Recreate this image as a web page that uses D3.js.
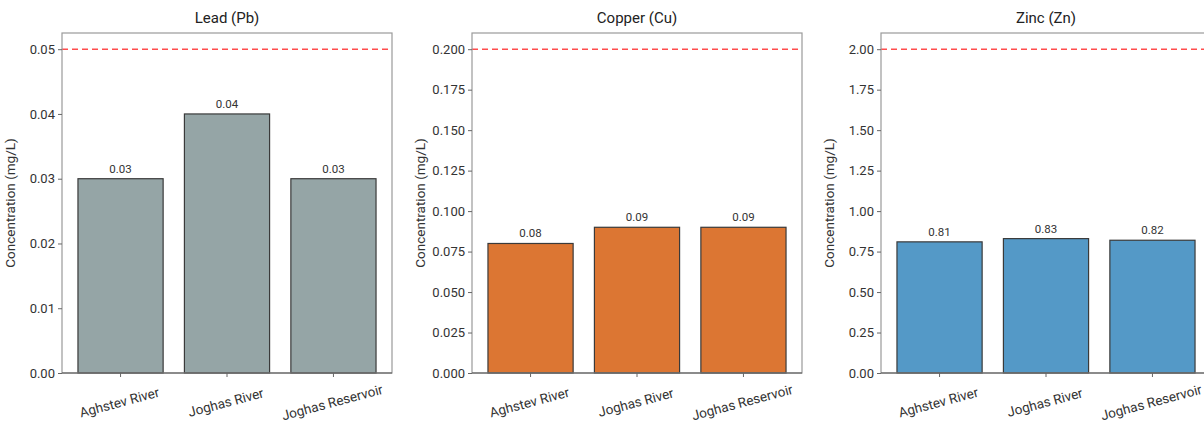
<!DOCTYPE html>
<html><head><meta charset="utf-8">
<script src="https://cdn.jsdelivr.net/npm/d3@7"></script>
<style>html,body{margin:0;padding:0;background:#fff;overflow:hidden}svg{display:block}text{font-family:Roboto,"Noto Sans",sans-serif}</style>
</head><body>
<script>
const sites = ["Aghstev River", "Joghas River", "Joghas Reservoir"];
const metals = ["Lead (Pb)", "Copper (Cu)", "Zinc (Zn)"];
const leadValues = [0.03, 0.04, 0.03];
const copperValues = [0.08, 0.09, 0.09];
const zincValues = [0.81, 0.83, 0.82];
const limits = [0.05, 0.2, 2.0];
const valueLabels = [["0.03","0.04","0.03"],["0.08","0.09","0.09"],["0.81","0.83","0.82"]];
const yTicks = [[0,0.01,0.02,0.03,0.04,0.05],[0,0.025,0.05,0.075,0.1,0.125,0.15,0.175,0.2],[0,0.25,0.5,0.75,1,1.25,1.5,1.75,2]];
const tickFormats = [".2f", ".3f", ".2f"];
const colors = ["#95a5a6", "#dc7633", "#5499c7"];
const yLabel = "Concentration (mg/L)";
const series = [leadValues, copperValues, zincValues];

(function(){
const W = 1204, H = 429;
const svg = d3.select("body").append("svg").attr("width", W).attr("height", H);
const lefts = [62, 472, 881];
const pw = 330, plotTop = 33, plotBottom = 373;

series.forEach((vals, i) => {
  const g = svg.append("g").attr("transform", `translate(${lefts[i]},0)`);
  const x = d3.scaleLinear().domain([-0.55, 2.55]).range([0, pw]);
  const y = d3.scaleLinear().domain([0, limits[i] * 1.05]).range([plotBottom, plotTop]);
  const bw = x(0.4) - x(-0.4);
  g.selectAll("rect.bar").data(vals).join("rect").attr("class","bar")
    .attr("x", (d, j) => x(j - 0.4)).attr("width", bw)
    .attr("y", d => y(d)).attr("height", d => y(0) - y(d))
    .attr("fill", colors[i]).attr("stroke", "#3a3a3a").attr("stroke-width", 1.2);
  g.append("line").attr("x1", 0).attr("x2", pw).attr("y1", y(limits[i])).attr("y2", y(limits[i]))
    .attr("stroke", "#ff4d4d").attr("stroke-width", 1.6).attr("stroke-dasharray", "6,4");
  g.selectAll("text.val").data(vals).join("text").attr("class","val")
    .attr("x", (d, j) => x(j)).attr("y", d => y(d) - 6)
    .attr("text-anchor", "middle").attr("font-size", 11.5).attr("fill", "#333")
    .text((d, j) => valueLabels[i][j]);
  g.append("rect").attr("x", 0).attr("y", plotTop).attr("width", pw).attr("height", plotBottom - plotTop)
    .attr("fill", "none").attr("stroke", "#9a9a9a").attr("stroke-width", 1.2);
  g.append("line").attr("x1",0).attr("x2",pw).attr("y1",plotBottom).attr("y2",plotBottom).attr("stroke","#555").attr("stroke-width",1.2);
  const ya = d3.axisLeft(y).tickValues(yTicks[i]).tickFormat(d3.format(tickFormats[i])).tickSize(4).tickPadding(3);
  const yg = g.append("g").call(ya);
  yg.select(".domain").remove();
  yg.selectAll("line").attr("stroke", "#666");
  yg.selectAll("text").attr("font-size", 13).attr("fill", "#333");
  g.selectAll("line.xt").data(sites).join("line").attr("class","xt")
    .attr("x1", (d, j) => x(j)).attr("x2", (d, j) => x(j)).attr("y1", plotBottom).attr("y2", plotBottom + 4)
    .attr("stroke", "#666");
  g.selectAll("text.xl").data(sites).join("text").attr("class","xl")
    .attr("transform", (d, j) => `translate(${x(j)},${plotBottom + 34}) rotate(-15)`)
    .attr("text-anchor", "middle").attr("font-size", 13.5).attr("fill", "#333").text(d => d);
  g.append("text").attr("x", pw / 2).attr("y", 23).attr("text-anchor", "middle")
    .attr("font-size", 15).attr("fill", "#222").text(metals[i]);
  g.append("text").attr("transform", `translate(-47,${(plotTop + plotBottom) / 2}) rotate(-90)`)
    .attr("text-anchor", "middle").attr("font-size", 13.5).attr("fill", "#333").text(yLabel);
});
})();
</script>
</body></html>
